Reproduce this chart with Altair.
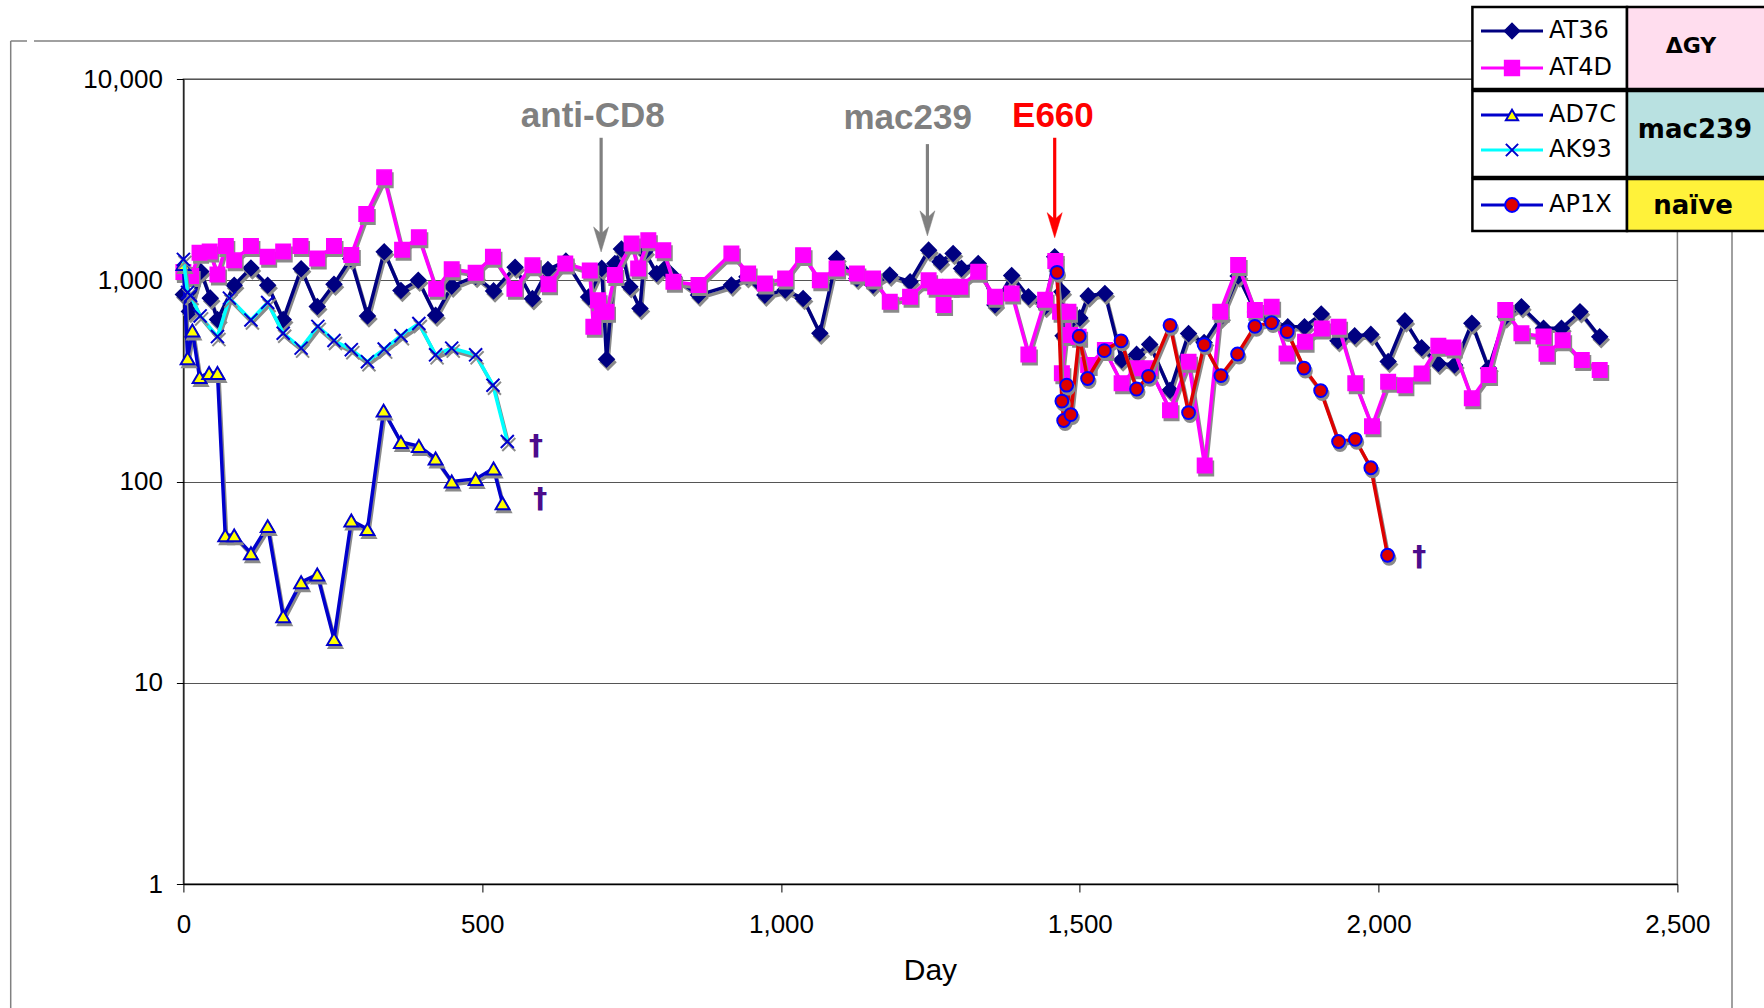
import altair as alt
import pandas as pd

# ---------------- data ----------------
AT36_day = [0, 10, 29, 45, 57, 85, 113, 141, 167, 197, 224, 252, 280, 308, 336, 364, 393, 422, 449, 489,
            519, 555, 584, 610, 640, 678, 700, 708, 722, 733, 747, 764, 772, 792, 806, 820, 862, 917, 943, 973,
            1007, 1037, 1065, 1093, 1127, 1154, 1182, 1216, 1247, 1266, 1288, 1302, 1330, 1358, 1386, 1414, 1442, 1458, 1470, 1472,
            1500, 1514, 1542, 1570, 1595, 1617, 1651, 1682, 1708, 1736, 1765, 1794, 1821, 1848, 1876, 1904, 1932, 1960, 1987, 2016,
            2044, 2072, 2100, 2127, 2156, 2184, 2212, 2239, 2276, 2306, 2337, 2370]
AT36_val = [850, 700, 1105, 815, 638, 945, 1150, 945, 638, 1140, 740, 955, 1280, 665, 1385, 890, 1000, 670, 935, 1045,
            885, 1160, 810, 1130, 1245, 825, 1145, 405, 1212, 1430, 928, 724, 1384, 1081, 1145, 1041, 844, 946, 1041, 844,
            894, 812, 545, 1283, 1020, 946, 1061, 983, 1411, 1235, 1359, 1145, 1212, 753, 1055, 828, 740, 1308, 877, 530,
            650, 836, 860, 402, 428, 480, 284, 543, 490, 655, 1050, 695, 628, 587, 587, 680, 501, 529, 538, 395,
            628, 462, 386, 379, 611, 365, 658, 738, 577, 577, 697, 524]

AT4D_day = [0, 13, 27, 44, 57, 71, 85, 113, 141, 167, 196, 224, 252, 281, 306, 336, 366, 394, 423, 449,
            489, 518, 554, 584, 611, 639, 680, 686, 694, 700, 708, 722, 750, 761, 778, 803, 820, 862, 917, 945,
            973, 1007, 1037, 1065, 1093, 1127, 1154, 1182, 1216, 1247, 1258, 1272, 1283, 1300, 1330, 1358, 1386, 1414, 1442, 1459,
            1467, 1470, 1481, 1484, 1498, 1514, 1542, 1570, 1595, 1617, 1651, 1682, 1709, 1735, 1765, 1793, 1821, 1846, 1877, 1905,
            1933, 1961, 1989, 2016, 2044, 2072, 2100, 2125, 2156, 2184, 2212, 2239, 2276, 2281, 2308, 2340, 2370]
AT4D_val = [1100, 1050, 1370, 1389, 1067, 1478, 1256, 1478, 1309, 1389, 1478, 1282, 1478, 1336, 2134, 3246, 1418, 1637, 906, 1135,
            1089, 1309, 906, 1186, 955, 1210, 1117, 588, 796, 697, 697, 1061, 1524, 1145, 1582, 1411, 983, 946, 1359, 1081,
            964, 1020, 1333, 1000, 1145, 1081, 1020, 782, 828, 1000, 928, 753, 928, 928, 1102, 828, 860, 428, 800, 1247,
            697, 345, 697, 535, 524, 379, 450, 308, 365, 365, 226, 394, 120, 697, 1189, 711, 738, 433, 495, 576,
            588, 308, 188, 313, 301, 344, 472, 463, 259, 338, 711, 545, 525, 431, 503, 401, 358]

AD7C_day = [0, 7, 15, 27, 43, 57, 70, 85, 113, 141, 167, 197, 224, 252, 281, 308, 335, 364, 394, 422, 449, 489, 519, 534]
AD7C_val = [1205, 410, 563, 330, 346, 346, 54, 54, 44, 60, 21.4, 31.6, 34.5, 16.5, 64, 58, 225, 157, 150, 130, 100, 103, 116, 78]

AK93_day = [0, 7, 12, 28, 57, 77, 113, 141, 167, 197, 225, 252, 281, 308, 336, 364, 394, 422, 449, 489, 518, 542]
AK93_val = [1270, 870, 840, 665, 525, 815, 635, 775, 545, 460, 590, 502, 452, 394, 455, 530, 610, 426, 460, 426, 301, 158]

AP1X_day = [1462, 1470, 1473, 1478, 1485, 1499, 1513, 1541, 1569, 1595, 1615, 1651, 1682, 1708, 1736, 1764, 1793, 1821, 1847,
            1875, 1903, 1933, 1961, 1987, 2015]
AP1X_val = [1095, 251, 201, 301, 215, 527, 325, 447, 500, 288, 333, 597, 220, 479, 336, 430, 590, 616, 556,
            366, 283, 158, 162, 117, 43]

X_TICKS = [0, 500, 1000, 1500, 2000, 2500]
Y_TICKS = [1, 10, 100, 1000, 10000]

EVENT_TEXT = ["anti-CD8", "mac239", "E660"]
EVENT_TEXT_DAY = [685, 1212, 1455]
EVENT_TEXT_VAL = [6535, 6380, 6535]
EVENT_DAY = [699, 1245, 1458]
EVENT_TOP = [5105, 4748, 5105]
EVENT_SHAFT_END = [1550, 1864, 1826]
EVENT_TIP = [1383, 1662, 1628]
EVENT_COLOR = ["#808080", "#808080", "#FF0000"]

DAGGER_DAY = [590, 597, 2068]
DAGGER_VAL = [149, 81, 41.6]

# ---------------- layout ----------------
W, H = 1494, 805
OX, OY = 183.4, 79.0


def px(v):
    return v - OX


def py(v):
    return v - OY


ONE = pd.DataFrame({"k": [0]})
SH = "#8a8a8a"
LW = 3.5

xs = alt.Scale(domain=[0, 2500], nice=False, zero=False)
ys = alt.Scale(type="log", domain=[1, 10000], nice=False)
xax = alt.Axis(values=X_TICKS, format=",.0f", grid=False, title=None, tickSize=8, tickColor="#000",
               domainColor="#000", domainWidth=1.5, labelFont="Liberation Sans", labelFontSize=26,
               labelColor="#000", labelPadding=19, labelFlush=False, labelOverlap=False)
yax = alt.Axis(values=Y_TICKS, format=",.0f", grid=True, gridColor="#555555", gridWidth=1.2, title=None,
               tickSize=7, tickColor="#000", domainColor="#000", domainWidth=1.2,
               labelFont="Liberation Sans", labelFontSize=26, labelColor="#000", labelPadding=14,
               labelOverlap=False)
XE = alt.X("day:Q", scale=xs, axis=xax)
YE = alt.Y("value:Q", scale=ys, axis=yax)

XPATH = "M-1,-1L1,1M-1,1L1,-1"


def series(days, vals, line_color, shape, fill, stroke, size, sw=1.5, filled=True):
    d = pd.DataFrame({"day": days, "value": vals})
    b = alt.Chart(d)
    out = [
        b.mark_line(color=SH, strokeWidth=LW, xOffset=1.5, yOffset=3).encode(x=XE, y=YE),
        b.mark_line(color=line_color, strokeWidth=LW).encode(x=XE, y=YE),
    ]
    if filled:
        out.append(b.mark_point(shape=shape, size=size, filled=True, fill=SH, stroke=SH, strokeWidth=sw,
                                opacity=1, xOffset=1.5, yOffset=3).encode(x=XE, y=YE))
        out.append(b.mark_point(shape=shape, size=size, filled=True, fill=fill, stroke=stroke, strokeWidth=sw,
                                opacity=1).encode(x=XE, y=YE))
    else:
        out.append(b.mark_point(shape=shape, size=size, filled=False, stroke=SH, strokeWidth=sw,
                                opacity=1, xOffset=1.5, yOffset=3).encode(x=XE, y=YE))
        out.append(b.mark_point(shape=shape, size=size, filled=False, stroke=stroke, strokeWidth=sw,
                                opacity=1).encode(x=XE, y=YE))
    return out


layers = []

# outer chart border
BC = "#808080"
b1 = alt.Chart(ONE)
layers.append(b1.mark_rule(color=BC, strokeWidth=1.5).encode(x=alt.value(px(10.7)), y=alt.value(py(41)), y2=alt.value(py(1020))))
layers.append(b1.mark_rule(color=BC, strokeWidth=1.5).encode(x=alt.value(px(10.7)), x2=alt.value(px(27)), y=alt.value(py(41))))
layers.append(b1.mark_rule(color=BC, strokeWidth=1.5).encode(x=alt.value(px(34)), x2=alt.value(px(1732)), y=alt.value(py(41))))
layers.append(b1.mark_rule(color=BC, strokeWidth=1.5).encode(x=alt.value(px(1732)), y=alt.value(py(41)), y2=alt.value(py(1020))))

# series
layers += series(AT36_day, AT36_val, "#000080", "diamond", "#000080", "#000080", 240)
layers += series(AT4D_day, AT4D_val, "#FF00FF", "square", "#FF00FF", "#FF00FF", 210)
layers += series(AD7C_day, AD7C_val, "#0000CC", "triangle-up", "#FFFF00", "#0000CC", 190, sw=2)
layers += series(AK93_day, AK93_val, "#00FFFF", XPATH, None, "#0000CC", 170, sw=2, filled=False)
layers += series(AP1X_day, AP1X_val, "#DD0000", "circle", "#DD0000", "#0000FF", 165, sw=2)

# event arrows & labels
ARROW = "M0,1L-0.6,-1L0,-0.45L0.6,-1Z"
for i in range(3):
    ad = pd.DataFrame({"day": [EVENT_DAY[i]], "value": [EVENT_TOP[i]], "end": [EVENT_SHAFT_END[i]], "tip": [EVENT_TIP[i]]})
    ab = alt.Chart(ad)
    layers.append(ab.mark_rule(color=EVENT_COLOR[i], strokeWidth=3.2).encode(
        x=XE, y=YE, y2=alt.Y2("end:Q")))
    layers.append(ab.mark_point(shape=ARROW, size=625, filled=True, fill=EVENT_COLOR[i], stroke=EVENT_COLOR[i],
                                strokeWidth=0.5, opacity=1, yOffset=-12.5).encode(
        x=XE, y=alt.Y("tip:Q", scale=ys, axis=yax)))
    td = pd.DataFrame({"day": [EVENT_TEXT_DAY[i]], "value": [EVENT_TEXT_VAL[i]]})
    layers.append(alt.Chart(td).mark_text(text=EVENT_TEXT[i], font="Liberation Sans", fontWeight="bold",
                                          fontSize=35, color=EVENT_COLOR[i], align="center",
                                          baseline="middle").encode(x=XE, y=YE))

# daggers
dd = pd.DataFrame({"day": DAGGER_DAY, "value": DAGGER_VAL})
layers.append(alt.Chart(dd).mark_text(text="†", font="DejaVu Sans", fontWeight="bold", fontSize=28,
                                      color="#4B0C8C", align="center", baseline="middle").encode(x=XE, y=YE))

# x axis title
layers.append(b1.mark_text(text="Day", font="Liberation Sans", fontSize=30, color="#000", align="center",
                           baseline="alphabetic").encode(x=alt.value(W / 2), y=alt.value(py(980))))

# legend table
ROWS = [(7, 89, "#FFDDEE"), (91, 177, "#B9E1E1"), (179, 231, "#FFF23A")]
for y0, y1, f in ROWS:
    layers.append(b1.mark_rect(fill="#FFFFFF", stroke="#000", strokeWidth=2.5).encode(
        x=alt.value(px(1472.4)), x2=alt.value(px(1627)), y=alt.value(py(y0)), y2=alt.value(py(y1))))
    layers.append(b1.mark_rect(fill=f, stroke="#000", strokeWidth=2.5).encode(
        x=alt.value(px(1627)), x2=alt.value(px(1800)), y=alt.value(py(y0)), y2=alt.value(py(y1))))

LEG = [
    ("AT36", 31, "#000080", "diamond", "#000080", "#000080", 230, 1.5, True),
    ("AT4D", 68, "#FF00FF", "square", "#FF00FF", "#FF00FF", 220, 1.5, True),
    ("AD7C", 115, "#0000CC", "triangle-up", "#FFFF00", "#0000CC", 150, 2, True),
    ("AK93", 150, "#00FFFF", XPATH, None, "#0000CC", 150, 2, False),
    ("AP1X", 205, "#0000CC", "circle", "#DD0000", "#0000FF", 190, 2, True),
]
for name, yy, lc, shp, fl, st, sz, sw, filled in LEG:
    layers.append(b1.mark_rule(color=lc, strokeWidth=3).encode(
        x=alt.value(px(1481)), x2=alt.value(px(1543)), y=alt.value(py(yy))))
    if filled:
        layers.append(b1.mark_point(shape=shp, size=sz, filled=True, fill=fl, stroke=st, strokeWidth=sw,
                                    opacity=1).encode(x=alt.value(px(1512)), y=alt.value(py(yy))))
    else:
        layers.append(b1.mark_point(shape=shp, size=sz, filled=False, stroke=st, strokeWidth=sw,
                                    opacity=1).encode(x=alt.value(px(1512)), y=alt.value(py(yy))))
    layers.append(b1.mark_text(text=name, font="DejaVu Sans", fontSize=24, color="#000", align="left",
                               baseline="middle").encode(x=alt.value(px(1549)), y=alt.value(py(yy))))

GROUPS = [("ΔGY", 1691, 46, 22), ("mac239", 1695, 130, 26), ("naïve", 1693, 206, 26)]
for txt, gx, gy, fs in GROUPS:
    layers.append(b1.mark_text(text=txt, font="DejaVu Sans", fontWeight="bold", fontSize=fs, color="#000",
                               align="center", baseline="middle").encode(x=alt.value(px(gx)), y=alt.value(py(gy))))

chart = alt.layer(*layers).properties(
    width=W, height=H,
    padding={"left": OX, "top": OY, "right": 1764 - OX - W, "bottom": 1008 - OY - H},
    autosize=alt.AutoSizeParams(type="none"),
    background="white",
).configure_view(stroke="#808080", strokeWidth=1.5)

chart.save("out.html", embed_options={"renderer": "svg", "actions": False})
